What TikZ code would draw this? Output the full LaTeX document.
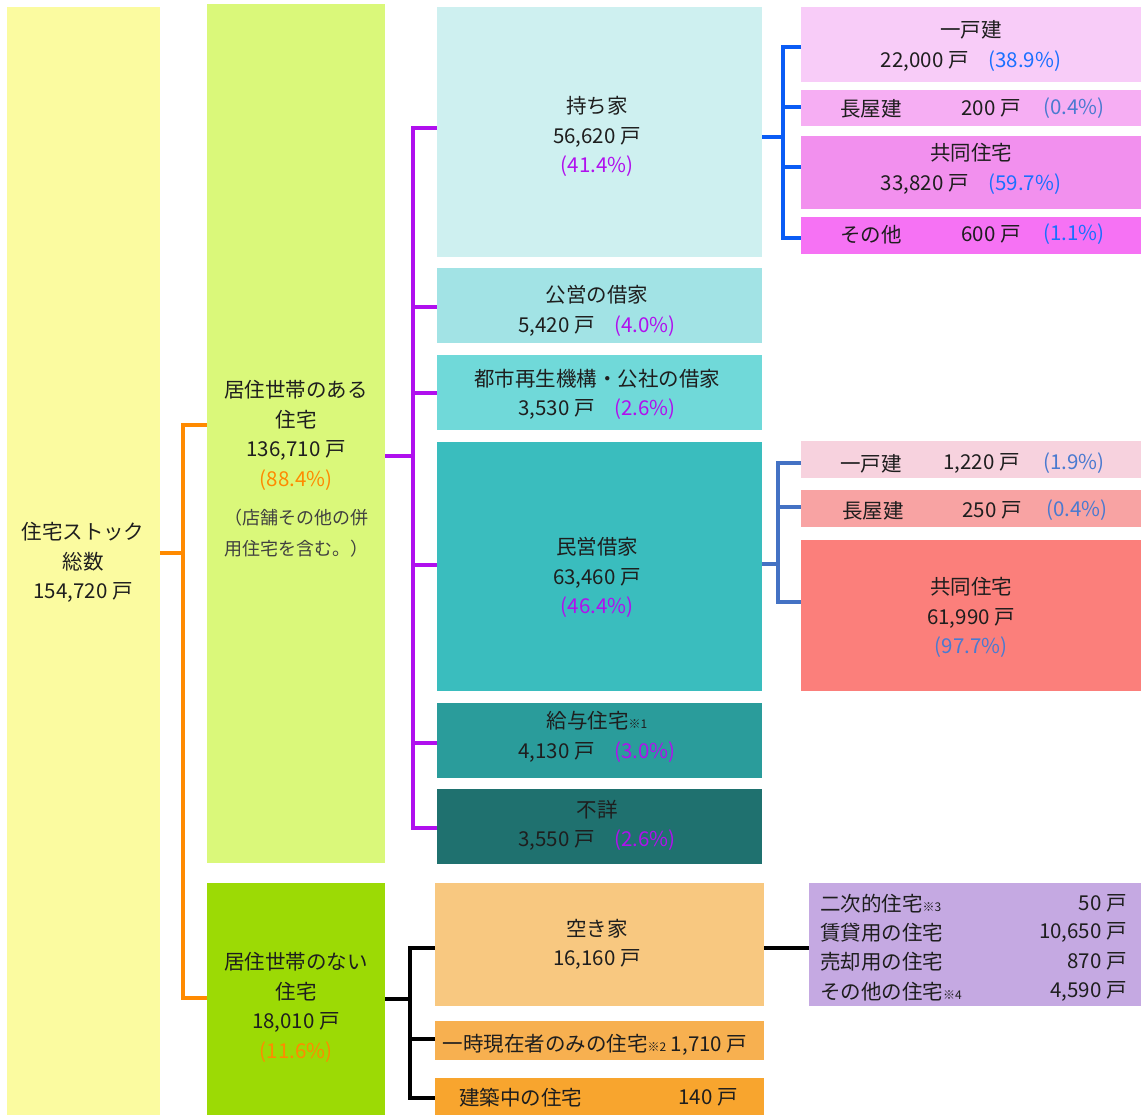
\documentclass[tikz,border=0pt]{standalone}
\usepackage{fontspec}
\setmainfont{Noto Sans CJK JP}
\usetikzlibrary{fit}
\definecolor{txt}{HTML}{1E1E1E}
\definecolor{cA}{HTML}{FBFBA0}
\definecolor{cB}{HTML}{DAF87A}
\definecolor{cC}{HTML}{9CDA05}
\definecolor{m1}{HTML}{CEF0F0}
\definecolor{m2}{HTML}{A2E3E5}
\definecolor{m3}{HTML}{70D9D9}
\definecolor{m4}{HTML}{3ABDBE}
\definecolor{m5}{HTML}{2A9C9B}
\definecolor{m6}{HTML}{1F716F}
\definecolor{v1}{HTML}{F8C880}
\definecolor{v2}{HTML}{F7B050}
\definecolor{v3}{HTML}{F8A52E}
\definecolor{p1}{HTML}{F8CCF8}
\definecolor{p2}{HTML}{F6AEF3}
\definecolor{p3}{HTML}{F290EE}
\definecolor{p4}{HTML}{F672F4}
\definecolor{r1}{HTML}{F7D2DE}
\definecolor{r2}{HTML}{F8A3A3}
\definecolor{r3}{HTML}{FB7F7B}
\definecolor{lav}{HTML}{C5A9E2}
\definecolor{orn}{HTML}{FF8A00}
\definecolor{pur}{HTML}{B010EE}
\definecolor{blu}{HTML}{0A5CF5}
\definecolor{stb}{HTML}{4472C4}
\definecolor{pctB}{HTML}{1A6FFF}
\definecolor{pctS}{HTML}{4A7AD0}
\newcommand\sm[1]{{\fontsize{12}{12}\selectfont #1}}
\begin{document}
\begin{tikzpicture}[x=1pt,y=-1pt,
  bx/.style={inner sep=0pt,outer sep=0pt,draw=none},
  tx/.style={font=\fontsize{20.5}{29.5}\selectfont,text=txt,align=center,inner sep=0pt,yshift=-1.5pt},
  note/.style={font=\fontsize{18}{31}\selectfont,text=txt!85,align=center,inner sep=0pt,yshift=-1.5pt},
  cn/.style={line width=3.5pt,line join=miter},
  ]
\useasboundingbox (0,0) rectangle (1141,1115);
% boxes
\node[bx,fill=cA,fit={(7,7)(160,1115)}] (col1) {};
\node[bx,fill=cB,fit={(207,4)(385,863)}] (c2a) {};
\node[bx,fill=cC,fit={(207,883)(385,1115)}] (c2b) {};
\node[bx,fill=m1,fit={(437,7)(762,257)}] (mochi) {};
\node[bx,fill=m2,fit={(437,268)(762,343)}] (koei) {};
\node[bx,fill=m3,fit={(437,355)(762,430)}] (toshi) {};
\node[bx,fill=m4,fit={(437,442)(762,691)}] (minei) {};
\node[bx,fill=m5,fit={(437,703)(762,778)}] (kyuyo) {};
\node[bx,fill=m6,fit={(437,789)(762,864)}] (fusho) {};
\node[bx,fill=v1,fit={(435,883)(764,1006)}] (akiya) {};
\node[bx,fill=v2,fit={(435,1021)(764,1060)}] (ichiji) {};
\node[bx,fill=v3,fit={(435,1078)(764,1115)}] (kenchiku) {};
\node[bx,fill=p1,fit={(801,7)(1141,82)}] (pa) {};
\node[bx,fill=p2,fit={(801,90)(1141,126)}] (pb) {};
\node[bx,fill=p3,fit={(801,136)(1141,209)}] (pc) {};
\node[bx,fill=p4,fit={(801,217)(1141,254)}] (pd) {};
\node[bx,fill=r1,fit={(801,441)(1141,478)}] (ra) {};
\node[bx,fill=r2,fit={(801,490)(1141,527)}] (rb) {};
\node[bx,fill=r3,fit={(801,540)(1141,691)}] (rc) {};
\node[bx,fill=lav,fit={(809,883)(1141,1006)}] (det) {};
% texts
\node[tx] (t1) at (83,561) {住宅ストック\\総数\\154,720 戸};
\node[tx] (t2) at (296,434) {居住世帯のある\\住宅\\136,710 戸\\\textcolor{orn}{(88.4\%)}};
\node[note] (t2n) at (296,532) {（店舗その他の併\\用住宅を含む。）};
\node[tx] (t3) at (296,1006) {居住世帯のない\\住宅\\18,010 戸\\\textcolor{orn}{(11.6\%)}};
\node[tx] (tm1) at (597,135) {持ち家\\56,620 戸\\\textcolor{pur}{(41.4\%)}};
\node[tx] (tm2) at (597,309.5) {公営の借家\\5,420 戸\hspace{20pt}\textcolor{pur}{(4.0\%)}};
\node[tx] (tm3) at (597,393) {都市再生機構・公社の借家\\3,530 戸\hspace{20pt}\textcolor{pur}{(2.6\%)}};
\node[tx] (tm4) at (597,576) {民営借家\\63,460 戸\\\textcolor{pur}{(46.4\%)}};
\node[tx] (tm5) at (597,735.5) {給与住宅\sm{※1}\\4,130 戸\hspace{20pt}\textcolor{pur}{(3.0\%)}};
\node[tx] (tm6) at (597,824) {不詳\\3,550 戸\hspace{20pt}\textcolor{pur}{(2.6\%)}};
\node[tx] (tv1) at (597,943) {空き家\\16,160 戸};
\node[tx] (tv2) at (595,1043) {一時現在者のみの住宅\sm{※2} 1,710 戸};
\node[tx,anchor=west] (tv3a) at (459,1096) {建築中の住宅};
\node[tx,anchor=east] (tv3b) at (738,1096) {140 戸};
\node[tx] (tpa) at (971,44.5) {一戸建\\22,000 戸\hspace{20pt}\textcolor{pctB}{(38.9\%)}};
\node[tx,anchor=west] (tpb1) at (840,107) {長屋建};
\node[tx,anchor=east] (tpb2) at (1021,107) {200 戸};
\node[tx,anchor=west] (tpb3) at (1043,107) {\textcolor{pctS}{(0.4\%)}};
\node[tx] (tpc) at (971,167.5) {共同住宅\\33,820 戸\hspace{20pt}\textcolor{pctB}{(59.7\%)}};
\node[tx,anchor=west] (tpd1) at (840,233) {その他};
\node[tx,anchor=east] (tpd2) at (1021,233) {600 戸};
\node[tx,anchor=west] (tpd3) at (1043,233) {\textcolor{pctB}{(1.1\%)}};
\node[tx,anchor=west] (tra1) at (840,462) {一戸建};
\node[tx,anchor=east] (tra2) at (1020,462) {1,220 戸};
\node[tx,anchor=west] (tra3) at (1043,462) {\textcolor{pctS}{(1.9\%)}};
\node[tx,anchor=west] (trb1) at (842,509) {長屋建};
\node[tx,anchor=east] (trb2) at (1022,509) {250 戸};
\node[tx,anchor=west] (trb3) at (1046,509) {\textcolor{pctS}{(0.4\%)}};
\node[tx] (trc) at (971,616) {共同住宅\\61,990 戸\\\textcolor{pctS}{(97.7\%)}};
\node[tx,anchor=west] (td1a) at (820,902) {二次的住宅\sm{※3}};
\node[tx,anchor=east] (td1b) at (1127,902) {50 戸};
\node[tx,anchor=west] (td2a) at (820,931) {賃貸用の住宅};
\node[tx,anchor=east] (td2b) at (1127,931) {10,650 戸};
\node[tx,anchor=west] (td3a) at (820,960) {売却用の住宅};
\node[tx,anchor=east] (td3b) at (1127,960) {870 戸};
\node[tx,anchor=west] (td4a) at (820,990) {その他の住宅\sm{※4}};
\node[tx,anchor=east] (td4b) at (1127,990) {4,590 戸};
% connectors: orange
\draw[cn,orn] (col1.east |- 0,553) -- (183,553);
\draw[cn,orn] (c2a.west |- 0,425) -| (183,998) -- (c2b.west |- 0,998);
% purple
\draw[cn,pur] (c2a.east |- 0,456) -- (413,456);
\draw[cn,pur] (mochi.west |- 0,128) -| (413,828) -- (fusho.west |- 0,828);
\draw[cn,pur] (413,307) -- (koei.west |- 0,307);
\draw[cn,pur] (413,393) -- (toshi.west |- 0,393);
\draw[cn,pur] (413,565) -- (minei.west |- 0,565);
\draw[cn,pur] (413,743) -- (kyuyo.west |- 0,743);
% blue
\draw[cn,blu] (mochi.east |- 0,137) -- (783,137);
\draw[cn,blu] (pa.west |- 0,47) -| (783,238) -- (pd.west |- 0,238);
\draw[cn,blu] (783,107) -- (pb.west |- 0,107);
\draw[cn,blu] (783,167) -- (pc.west |- 0,167);
% steel blue
\draw[cn,stb] (minei.east |- 0,564) -- (778,564);
\draw[cn,stb] (ra.west |- 0,463) -| (778,602) -- (rc.west |- 0,602);
\draw[cn,stb] (778,507) -- (rb.west |- 0,507);
% black
\draw[cn,black] (c2b.east |- 0,999) -- (410,999);
\draw[cn,black] (akiya.west |- 0,948) -| (410,1098) -- (kenchiku.west |- 0,1098);
\draw[cn,black] (410,1039) -- (ichiji.west |- 0,1039);
\draw[cn,black] (akiya.east |- 0,948) -- (det.west |- 0,948);
\end{tikzpicture}
\end{document}
